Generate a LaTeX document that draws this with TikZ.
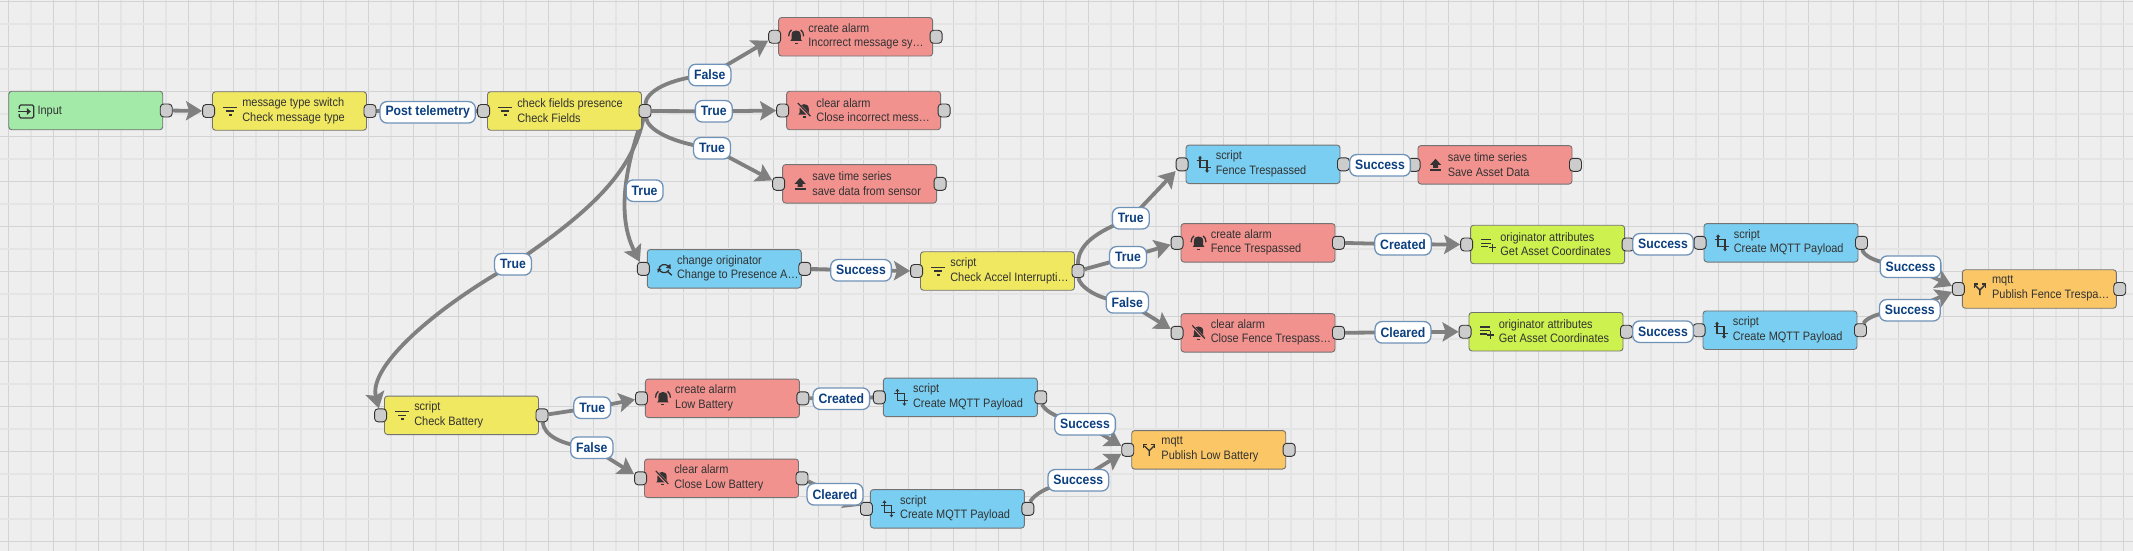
\documentclass[tikz,border=0pt]{standalone}
\usepackage{fontspec}
\setmainfont[FakeStretch=0.9]{Liberation Sans}
\usetikzlibrary{arrows.meta,backgrounds}

\definecolor{canvasbg}{HTML}{EEEEEE}
\definecolor{gridA}{HTML}{D3D3D3}
\definecolor{gridB}{HTML}{E4E4E4}
\definecolor{inputcol}{HTML}{A3EAA9}
\definecolor{filtercol}{HTML}{F1E861}
\definecolor{actioncol}{HTML}{F1928F}
\definecolor{transcol}{HTML}{79CEF1}
\definecolor{enrichcol}{HTML}{CDF14E}
\definecolor{externcol}{HTML}{FBC766}
\definecolor{wirecol}{HTML}{808080}
\definecolor{inkcol}{HTML}{333333}
\definecolor{labelink}{HTML}{0B3F80}
\definecolor{labelline}{HTML}{6F92B8}

\tikzset{
	rulenode/.style = {draw=black!55,line width=0.9pt,rounded corners=3pt,minimum width=154pt,minimum height=38.5pt,inner sep=0pt},
	ruletext/.style = {anchor=west,inner sep=0pt,align=left,text=inkcol,font=\fontsize{12.2}{14.6}\selectfont},
	portnode/.style = {draw=inkcol,line width=0.9pt,fill=black!20,rounded corners=3.5pt,minimum width=12pt,minimum height=13pt,inner sep=0pt},
	wire/.style = {draw=wirecol,line width=3.8pt,-{Stealth[length=16pt,width=19pt,inset=3pt]}},
	linklabel/.style = {draw=labelline,line width=1.3pt,fill=white,rounded corners=7pt,minimum height=21.5pt,inner xsep=5.5pt,inner ysep=0pt,text=labelink,font=\fontsize{13.6}{15}\selectfont\bfseries},
	iconline/.style = {draw=inkcol,line width=1.3pt},
	iconfilter/.pic = {
		\fill[inkcol] (-7,-4.5) rectangle (7,-2.9);
		\fill[inkcol] (-4,-0.8) rectangle (4,0.8);
		\fill[inkcol] (-1.5,2.9) rectangle (1.5,4.5);
	},
	iconbell/.pic = {
		\begin{scope}[scale=1.15]
			\fill[inkcol] (-5,3.5) -- (-4,2) -- (-4,-1.5) .. controls (-4,-4.5) and (-2,-5.5) .. (0,-5.5) .. controls (2,-5.5) and (4,-4.5) .. (4,-1.5) -- (4,2) -- (5,3.5) -- cycle;
			\fill[inkcol] (-1.3,5) rectangle (1.3,6.2);
			\draw[iconline] (-6.5,-0.5) .. controls (-6.5,-3) and (-5.5,-5) .. (-4,-6);
			\draw[iconline] (6.5,-0.5) .. controls (6.5,-3) and (5.5,-5) .. (4,-6);
		\end{scope}
	},
	iconbelloff/.pic = {
		\begin{scope}[scale=1.15]
			\fill[inkcol] (-5,3.5) -- (-4,2) -- (-4,-1.5) .. controls (-4,-4.5) and (-2,-5.5) .. (0,-5.5) .. controls (2,-5.5) and (4,-4.5) .. (4,-1.5) -- (4,2) -- (5,3.5) -- cycle;
			\fill[inkcol] (-1.3,5) rectangle (1.3,6.2);
			\draw[actioncol,line width=2.6pt] (-5.5,-6) -- (6,6);
			\draw[inkcol,line width=1.2pt] (-5.5,-6.5) -- (5.5,5);
		\end{scope}
	},
	iconupload/.pic = {
		\fill[inkcol] (0,-6) -- (5.5,0) -- (2.5,0) -- (2.5,3) -- (-2.5,3) -- (-2.5,0) -- (-5.5,0) -- cycle;
		\fill[inkcol] (-5.5,4.5) rectangle (5.5,6);
	},
	iconcrop/.pic = {
		\draw[iconline] (-3.5,-7) -- (-3.5,3.5) -- (7,3.5);
		\draw[iconline] (-7,-3.5) -- (3.5,-3.5) -- (3.5,7);
		\fill[inkcol] (-3.5,-8.5) -- (-1.5,-6) -- (-5.5,-6) -- cycle;
		\fill[inkcol] (3.5,8.5) -- (1.5,6) -- (5.5,6) -- cycle;
	},
	iconswap/.pic = {
		\draw[iconline] (-6,1) .. controls (-6,-4) and (0,-6) .. (4,-2.5);
		\draw[iconline] (4,1) .. controls (3,4) and (-2,5) .. (-5,2);
		\fill[inkcol] (6,0) -- (1,-1) -- (5.5,-5) -- cycle;
		\fill[inkcol] (-7.5,0) -- (-3,0) -- (-7,4) -- cycle;
		\draw[iconline] (2.5,2.5) -- (7,6.5);
	},
	iconfork/.pic = {
		\draw[iconline] (0,6) -- (0,1) -- (-5,-4);
		\draw[iconline] (0,1) -- (5,-4);
		\draw[iconline] (-5.5,-1.5) -- (-5.5,-5) -- (-2,-5);
		\draw[iconline] (5.5,-1.5) -- (5.5,-5) -- (2,-5);
	},
	iconattr/.pic = {
		\fill[inkcol] (-7,-5.5) rectangle (3,-4.1);
		\fill[inkcol] (-7,-2) rectangle (3,-0.6);
		\fill[inkcol] (-7,1.5) rectangle (0,2.9);
		\draw[iconline] (4,-0.5) -- (4,7);
		\draw[iconline] (0.5,3.2) -- (7.5,3.2);
	},
	iconinput/.pic = {
		\draw[iconline,rounded corners=1.5pt] (-7,-2.5) -- (-7,-6.5) -- (7.5,-6.5) -- (7.5,6.5) -- (-7,6.5) -- (-7,2.5);
		\draw[iconline] (-8.5,0) -- (2,0);
		\fill[inkcol] (4.5,0) -- (0.5,-3.5) -- (0.5,3.5) -- cycle;
	}
}

\newcommand{\rulebox}[7]{
	\node[rulenode,fill=#2] (#1) at (#3,#4) {};
	\node[ruletext] (#1Text) at ([xshift=30pt,yshift=0.4pt]#1.west) {#6\\#7};
	\node[portnode] (#1In) at ([xshift=-3.5pt]#1.west) {};
	\node[portnode] (#1Out) at ([xshift=3pt]#1.east) {};
	\pic at ([xshift=18pt]#1.west) {#5};
}

\begin{document}
\begin{tikzpicture}[x=1pt,y=-1pt]
	\useasboundingbox (0,0) rectangle (2133,551);

	\begin{scope}[on background layer]
		\fill[canvasbg] (0,0) rectangle (2133,551);
		\foreach \i in {0,...,47} {
			\draw[gridB,line width=2pt] ({30.8+45*\i},0) -- ({30.8+45*\i},551);
			\draw[gridA,line width=0.9pt] ({8.3+45*\i},0) -- ({8.3+45*\i},551);
		}
		\foreach \i in {0,...,12} {
			\draw[gridB,line width=2pt] (0,{23.6+45.05*\i}) -- (2133,{23.6+45.05*\i});
			\draw[gridA,line width=0.9pt] (0,{1+45.05*\i}) -- (2133,{1+45.05*\i});
		}
	\end{scope}

	\node[rulenode,fill=inputcol] (input) at (85.75,110.5) {};
	\node[ruletext] (inputText) at ([xshift=29pt,yshift=-1pt]input.west) {Input};
	\node[portnode] (inputOut) at ([xshift=3pt]input.east) {};
	\pic at ([xshift=18pt,yshift=-1pt]input.west) {iconinput};

	\rulebox{typeSwitch}{filtercol}{289.5}{111}{iconfilter}{message type switch}{Check message type}
	\rulebox{checkFields}{filtercol}{564.5}{111}{iconfilter}{check fields presence}{Check Fields}
	\rulebox{createIncorrect}{actioncol}{855.6}{36.8}{iconbell}{create alarm}{Incorrect message sy…}
	\rulebox{clearIncorrect}{actioncol}{863.6}{110.5}{iconbelloff}{clear alarm}{Close incorrect mess…}
	\rulebox{saveSensor}{actioncol}{859.6}{183.8}{iconupload}{save time series}{save data from sensor}
	\rulebox{changeOrig}{transcol}{724.3}{268.8}{iconswap}{change originator}{Change to Presence A…}
	\rulebox{checkAccel}{filtercol}{997.5}{271}{iconfilter}{script}{Check Accel Interrupti…}
	\rulebox{scriptFence}{transcol}{1263}{164.3}{iconcrop}{script}{Fence Trespassed}
	\rulebox{saveAsset}{actioncol}{1495}{164.8}{iconupload}{save time series}{Save Asset Data}
	\rulebox{createFence}{actioncol}{1258}{242.8}{iconbell}{create alarm}{Fence Trespassed}
	\rulebox{attrFence}{enrichcol}{1547.6}{244.5}{iconattr}{originator attributes}{Get Asset Coordinates}
	\rulebox{payloadFence}{transcol}{1781}{242.8}{iconcrop}{script}{Create MQTT Payload}
	\rulebox{publishFence}{externcol}{2039.3}{289}{iconfork}{mqtt}{Publish Fence Trespa…}
	\rulebox{clearFence}{actioncol}{1258}{332.8}{iconbelloff}{clear alarm}{Close Fence Trespass…}
	\rulebox{attrClear}{enrichcol}{1546}{331.7}{iconattr}{originator attributes}{Get Asset Coordinates}
	\rulebox{payloadClear}{transcol}{1780}{330.2}{iconcrop}{script}{Create MQTT Payload}
	\rulebox{checkBattery}{filtercol}{461.5}{415.3}{iconfilter}{script}{Check Battery}
	\rulebox{createLow}{actioncol}{722.4}{398.3}{iconbell}{create alarm}{Low Battery}
	\rulebox{clearLow}{actioncol}{721.5}{478.3}{iconbelloff}{clear alarm}{Close Low Battery}
	\rulebox{payloadLow}{transcol}{960.3}{397.3}{iconcrop}{script}{Create MQTT Payload}
	\rulebox{payloadCleared}{transcol}{947.4}{508.8}{iconcrop}{script}{Create MQTT Payload}
	\rulebox{publishLow}{externcol}{1208.7}{449.8}{iconfork}{mqtt}{Publish Low Battery}

	\node[linklabel] (labPost) at (427.7,112.3) {Post telemetry};
	\node[linklabel] (labIncorrect) at (709.8,75) {False};
	\node[linklabel] (labClear) at (713.8,111.3) {True};
	\node[linklabel] (labSave) at (712,148.3) {True};
	\node[linklabel] (labChange) at (644.6,190.7) {True};
	\node[linklabel] (labBattery) at (513,264.3) {True};
	\node[linklabel] (labOrig) at (861,270.3) {Success};
	\node[linklabel] (labScript) at (1130.8,218.3) {True};
	\node[linklabel] (labCreate) at (1128,257.3) {True};
	\node[linklabel] (labFalse) at (1127.3,302.3) {False};
	\node[linklabel] (labAsset) at (1380,165.3) {Success};
	\node[linklabel] (labCreated) at (1403,244.3) {Created};
	\node[linklabel] (labAttr) at (1663,244.3) {Success};
	\node[linklabel] (labPub) at (1910.5,266.7) {Success};
	\node[linklabel] (labCleared) at (1403,332.3) {Cleared};
	\node[linklabel] (labAttrTwo) at (1663,331.7) {Success};
	\node[linklabel] (labPubTwo) at (1909.8,310.3) {Success};
	\node[linklabel] (labLowTrue) at (592.2,407.7) {True};
	\node[linklabel] (labLowFalse) at (591.8,447.7) {False};
	\node[linklabel] (labLowCreated) at (841.3,398.7) {Created};
	\node[linklabel] (labLowCleared) at (835,494.3) {Cleared};
	\node[linklabel] (labLowPub) at (1085,424.3) {Success};
	\node[linklabel] (labLowPubTwo) at (1078.3,480.3) {Success};

	\begin{scope}[on background layer]
		\draw[wire] (inputOut) -- (typeSwitchIn);
		\draw[wire,-] (typeSwitchOut) -- (checkFieldsIn);
		\draw[wire] (checkFieldsOut) .. controls (646,92) and (668,78) .. (labIncorrect.center) -- (createIncorrectIn);
		\draw[wire] (checkFieldsOut) -- (labClear.center) -- (clearIncorrectIn);
		\draw[wire] (checkFieldsOut) .. controls (648,130) and (672,143) .. (labSave.center) -- (saveSensorIn);
		\draw[wire] (checkFieldsOut) .. controls (626,165) and (616,215) .. (changeOrigIn);
		\draw[wire] (checkFieldsOut) .. controls (632,175) and (585,215) .. (labBattery.center) .. controls (440,305) and (368,365) .. (checkBatteryIn);
		\draw[wire] (changeOrigOut) -- (labOrig.center) -- (checkAccelIn);
		\draw[wire] (checkAccelOut) .. controls (1078,245) and (1095,232) .. (labScript.center) -- (scriptFenceIn);
		\draw[wire] (checkAccelOut) -- (labCreate.center) -- (createFenceIn);
		\draw[wire] (checkAccelOut) .. controls (1079,285) and (1095,300) .. (labFalse.center) -- (clearFenceIn);
		\draw[wire,-] (scriptFenceOut) -- (saveAssetIn);
		\draw[wire] (createFenceOut) -- (labCreated.center) -- (attrFenceIn);
		\draw[wire,-] (attrFenceOut) -- (payloadFenceIn);
		\draw[wire] (payloadFenceOut) .. controls (1863,255) and (1875,264) .. (labPub.center) -- (publishFenceIn);
		\draw[wire] (clearFenceOut) -- (labCleared.center) -- (attrClearIn);
		\draw[wire,-] (attrClearOut) -- (payloadClearIn);
		\draw[wire] (payloadClearOut) .. controls (1866,318) and (1880,311) .. (labPubTwo.center) -- (publishFenceIn);
		\draw[wire] (checkBatteryOut) -- (labLowTrue.center) -- (createLowIn);
		\draw[wire] (checkBatteryOut) .. controls (544,435) and (560,445) .. (labLowFalse.center) -- (clearLowIn);
		\draw[wire,-] (createLowOut) -- (payloadLowIn);
		\draw[wire] (clearLowOut) -- (labLowCleared.center) -- (payloadClearedIn);
		\draw[wire] (payloadLowOut) .. controls (1043,408) and (1052,418) .. (labLowPub.center) -- (publishLowIn);
		\draw[wire] (payloadClearedOut) .. controls (1032,497) and (1045,485) .. (labLowPubTwo.center) -- (publishLowIn);
	\end{scope}
\end{tikzpicture}
\end{document}
